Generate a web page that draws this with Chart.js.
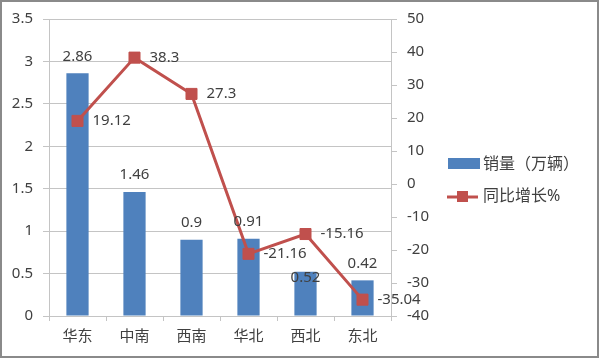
<!DOCTYPE html>
<html>
<head>
<meta charset="utf-8">
<script src="https://cdn.jsdelivr.net/npm/chart.js@4.4.0/dist/chart.umd.min.js"></script>
<style>
    html, body { margin: 0; padding: 0; background: #fff; }
    #wrap { width: 600px; height: 359px; position: relative; }
</style>
</head>
<body>
<div id="wrap"><canvas id="salesChart" width="600" height="359"></canvas></div>
<script>
// 各区域销量与同比增长
const categories = ['华东', '中南', '西南', '华北', '西北', '东北'];
const salesValues = [2.86, 1.46, 0.9, 0.91, 0.52, 0.42];     // 万辆
const growthValues = [19.12, 38.3, 27.3, -21.16, -15.16, -35.04]; // %
const salesLabel = '销量（万辆）';
const growthLabel = '同比增长%';

const FONT = '"Noto Sans", "Noto Sans CJK SC", sans-serif';
const TEXT = '#404040';
const GRID = '#c4c4c4';
const BLUE = '#4f81bd';
const RED = '#c0504d';

/**
 * Value labels: bars above the bar, line to the right of the point
 */
const valueLabels = {
    id: 'valueLabels',
    afterDatasetsDraw(chart) {
        const ctx = chart.ctx;
        ctx.save();
        ctx.font = '15px ' + FONT;
        ctx.fillStyle = TEXT;
        ctx.textBaseline = 'middle';

        const lineMeta = chart.getDatasetMeta(1);
        const boxes = [];
        ctx.textAlign = 'left';
        lineMeta.data.forEach((pt, i) => {
            const txt = String(growthValues[i]);
            const x = pt.x + 15;
            const w = ctx.measureText(txt).width;
            boxes.push({ l: x, r: x + w, t: pt.y - 8, b: pt.y + 8 });
            ctx.fillText(txt, x, pt.y);
        });

        // bar label moves into the bar top when it would collide with a line label
        const barMeta = chart.getDatasetMeta(0);
        ctx.textAlign = 'center';
        barMeta.data.forEach((bar, i) => {
            const txt = String(salesValues[i]);
            const w = ctx.measureText(txt).width;
            let y = bar.y - 17;
            const hit = boxes.some(b => bar.x - w / 2 < b.r && bar.x + w / 2 > b.l && y - 8 < b.b && y + 8 > b.t);
            if (hit) y = bar.y + 6;
            ctx.fillText(txt, bar.x, y);
        });
        ctx.restore();
    }
};

/**
 * Legend on the right plus the outer frame
 */
const sideLegend = {
    id: 'sideLegend',
    afterDraw(chart) {
        const ctx = chart.ctx;
        ctx.save();
        ctx.font = '16px ' + FONT;
        ctx.textBaseline = 'middle';
        ctx.textAlign = 'left';

        // bar entry
        ctx.fillStyle = BLUE;
        ctx.fillRect(448, 158, 32, 11);
        ctx.fillStyle = TEXT;
        ctx.fillText(chart.data.datasets[0].label, 483, 164);

        // line entry
        ctx.strokeStyle = RED;
        ctx.lineWidth = 3;
        ctx.beginPath();
        ctx.moveTo(447, 197);
        ctx.lineTo(478, 197);
        ctx.stroke();
        ctx.fillStyle = RED;
        ctx.fillRect(457, 191, 11, 11);
        ctx.fillStyle = TEXT;
        ctx.fillText(chart.data.datasets[1].label, 483, 196);

        // frame
        ctx.strokeStyle = '#8a8a8a';
        ctx.lineWidth = 2;
        ctx.strokeRect(1, 1, 597, 356);
        ctx.restore();
    }
};

new Chart(document.getElementById('salesChart'), {
    data: {
        labels: categories,
        datasets: [
            {
                type: 'bar',
                label: salesLabel,
                data: salesValues,
                yAxisID: 'y',
                backgroundColor: BLUE,
                barPercentage: 0.39,
                categoryPercentage: 1,
                order: 2
            },
            {
                type: 'line',
                label: growthLabel,
                data: growthValues,
                yAxisID: 'y1',
                borderColor: RED,
                borderWidth: 3,
                backgroundColor: RED,
                pointStyle: 'rect',
                pointRadius: 7.8,
                pointBackgroundColor: RED,
                pointBorderColor: RED,
                pointBorderWidth: 1,
                tension: 0,
                order: 1
            }
        ]
    },
    options: {
        responsive: false,
        animation: false,
        devicePixelRatio: 1,
        layout: { padding: { top: 19, right: 159, left: 0, bottom: 0 } },
        plugins: {
            legend: { display: false },
            tooltip: { enabled: false }
        },
        scales: {
            x: {
                grid: { drawOnChartArea: false, drawTicks: true, tickLength: 5, color: GRID, offset: true },
                border: { color: GRID },
                ticks: { font: { family: FONT, size: 15 }, color: TEXT, padding: 7, maxRotation: 0 },
                afterFit: (s) => { s.height = 43; }
            },
            y: {
                position: 'left',
                min: 0,
                max: 3.5,
                grid: { color: GRID, tickLength: 6 },
                border: { color: GRID },
                ticks: {
                    stepSize: 0.5,
                    font: { family: FONT, size: 15 },
                    color: TEXT,
                    padding: 10,
                    callback: (v) => String(v)
                },
                afterFit: (s) => { s.width = 49; }
            },
            y1: {
                position: 'right',
                min: -40,
                max: 50,
                grid: { drawOnChartArea: false, color: GRID, tickLength: 6 },
                border: { color: GRID },
                ticks: {
                    stepSize: 10,
                    font: { family: FONT, size: 15 },
                    color: TEXT,
                    padding: 10,
                    callback: (v) => String(v)
                },
                afterFit: (s) => { s.width = 50; }
            }
        }
    },
    plugins: [valueLabels, sideLegend]
});
</script>
</body>
</html>
